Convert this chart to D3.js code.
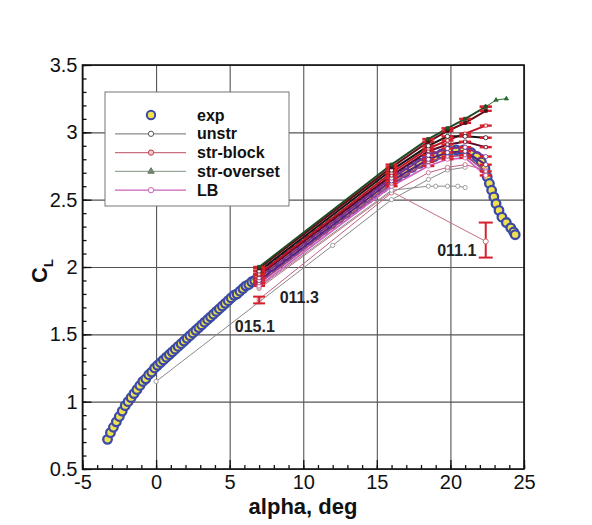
<!DOCTYPE html>
<html>
<head>
<meta charset="utf-8">
<script src="https://cdn.jsdelivr.net/npm/d3@7"></script>
<style>
  body { margin: 0; background: #fff; }
  svg { display: block; font-family: "Liberation Sans", Arial, sans-serif; }
</style>
</head>
<body>
<svg id="chart" width="592" height="525"></svg>
<script>
// ---- data ----
const xTicks = [-5, 0, 5, 10, 15, 20, 25];
const yTicks = [0.5, 1, 1.5, 2, 2.5, 3, 3.5];

// experiment
const expAlpha = [-3.3, -3.1, -2.9, -2.7, -2.5, -2.3, -2.1, -1.9, -1.7, -1.5, -1.3, -1.1, -0.9, -0.7, -0.5, -0.3, -0.1,
  0.1, 0.3, 0.5, 0.7, 0.9, 1.1, 1.3, 1.5, 1.7, 1.9, 2.1, 2.3, 2.5, 2.7, 2.9, 3.1, 3.3, 3.5, 3.7, 3.9,
  4.1, 4.3, 4.5, 4.7, 4.9, 5.1, 5.3, 5.5, 5.7, 5.9, 6.1, 6.3, 6.5, 6.7, 6.9,
  7.4, 7.9, 8.4, 8.9, 9.4, 9.9, 10.4, 10.9, 11.4, 11.9, 12.4, 12.9, 13.4, 13.9, 14.4, 14.9, 15.4, 15.9,
  16.4, 16.9, 17.4, 17.9, 18.4, 18.9, 19.4, 19.9, 20.4, 20.9, 21.4, 21.8, 22.1, 22.35, 22.5, 22.65,
  22.8, 22.95, 23.1, 23.3, 23.5, 23.8, 24.1, 24.3, 24.4];
const expCL = [0.72, 0.77, 0.81, 0.85, 0.89, 0.93, 0.97, 1.00, 1.03, 1.06, 1.09, 1.12, 1.15, 1.17, 1.20, 1.22, 1.25,
  1.27, 1.29, 1.31, 1.33, 1.35, 1.37, 1.39, 1.41, 1.43, 1.45, 1.47, 1.49, 1.51, 1.53, 1.55, 1.57, 1.59, 1.61, 1.63, 1.65,
  1.67, 1.69, 1.71, 1.73, 1.75, 1.77, 1.79, 1.80, 1.82, 1.84, 1.86, 1.87, 1.89, 1.90, 1.92,
  1.96, 2.00, 2.04, 2.08, 2.12, 2.16, 2.20, 2.24, 2.28, 2.32, 2.36, 2.40, 2.43, 2.47, 2.51, 2.55, 2.59, 2.63,
  2.67, 2.70, 2.74, 2.77, 2.80, 2.82, 2.84, 2.86, 2.87, 2.87, 2.85, 2.82, 2.78, 2.73, 2.67, 2.62,
  2.57, 2.52, 2.47, 2.42, 2.37, 2.33, 2.29, 2.26, 2.24];

// computations
const alphaCFD = [7, 16, 18.5, 19.8, 21, 22.4];
const clOversetA = [2.00, 2.76, 2.95, 3.03, 3.10, 3.19];
const alphaTail = [22.4, 23.1, 23.8];
const clTail = [3.19, 3.24, 3.25];
const clBlockA = [1.99, 2.74, 2.93, 3.01, 3.07, 3.16];
const clUnstrA = [1.97, 2.72, 2.90, 2.97, 2.97, 2.96];
const clBlockB = [1.95, 2.70, 2.88, 2.94, 2.99, 3.05];
const clBlockC = [1.94, 2.68, 2.86, 2.91, 2.93, 2.89];
const clLBA = [1.92, 2.66, 2.83, 2.88, 2.89, 2.82];
const clLBB = [1.90, 2.64, 2.80, 2.85, 2.86, 2.76];
const clBlockD = [1.88, 2.62, 2.78, 2.82, 2.83, 2.71];
const clLBC = [1.86, 2.60, 2.75, 2.80, 2.81, 2.68];
const alphaFlat = [7, 16, 18.5, 19, 19.8, 20.5, 21];
const clFlat = [1.85, 2.57, 2.60, 2.60, 2.60, 2.60, 2.59];
const alpha0111 = [7, 16, 22.4];
const cl0111 = [1.84, 2.56, 2.19];
const cl0113 = [1.76, 2.55, 2.70, 2.74, 2.76, 2.72];
const alpha0151 = [0, 7, 12, 16, 18.5, 19.8, 21];
const cl0151 = [1.15, 1.74, 2.16, 2.50, 2.65, 2.72, 2.74];

const legendNames = ["exp", "unstr", "str-block", "str-overset", "LB"];

// ---- layout ----
const svg = d3.select("#chart");
const pLeft = 82.5, pRight = 524, pTop = 65, pBottom = 469;

const x = d3.scaleLinear().domain([-5, 25]).range([pLeft, pRight]);
const y = d3.scaleLinear().domain([0.5, 3.5]).range([pBottom, pTop]);

svg.append("rect").attr("width", 592).attr("height", 525).attr("fill", "#fff");

// grid
svg.append("g").attr("class", "grid-x")
  .attr("transform", `translate(0,${pBottom})`)
  .call(d3.axisBottom(x).tickValues(xTicks).tickSize(-(pBottom - pTop)).tickFormat(""));
svg.append("g").attr("class", "grid-y")
  .attr("transform", `translate(${pLeft},0)`)
  .call(d3.axisLeft(y).tickValues(yTicks).tickSize(-(pRight - pLeft)).tickFormat(""));
svg.selectAll(".grid-x line, .grid-y line").attr("stroke", "#555").attr("stroke-width", 1.1);

// minor + major ticks (inward)
const tickGroups = [
  svg.append("g").attr("transform", `translate(0,${pBottom})`)
    .call(d3.axisBottom(x).tickValues(d3.range(-5, 25.01, 1)).tickSize(-4).tickFormat("")),
  svg.append("g").attr("transform", `translate(0,${pBottom})`)
    .call(d3.axisBottom(x).tickValues(xTicks).tickSize(-9).tickFormat("")),
  svg.append("g").attr("transform", `translate(${pLeft},0)`)
    .call(d3.axisLeft(y).tickValues(d3.range(0.5, 3.51, 0.1)).tickSize(-4).tickFormat("")),
  svg.append("g").attr("transform", `translate(${pLeft},0)`)
    .call(d3.axisLeft(y).tickValues(yTicks).tickSize(-9).tickFormat(""))
];
tickGroups.forEach(g => g.selectAll("line").attr("stroke", "#111").attr("stroke-width", 1.3));

// tick labels
const xLab = svg.append("g").attr("transform", `translate(0,${pBottom})`)
  .call(d3.axisBottom(x).tickValues(xTicks).tickSize(0).tickPadding(6).tickFormat(d => d));
const yLab = svg.append("g").attr("transform", `translate(${pLeft},0)`)
  .call(d3.axisLeft(y).tickValues(yTicks).tickSize(0).tickPadding(5).tickFormat(d => d));
[xLab, yLab].forEach(g => {
  g.selectAll("text").attr("font-size", 20).attr("fill", "#111")
    .attr("font-family", '"Liberation Sans", Arial, sans-serif');
});
svg.selectAll(".domain").remove();

// frame
svg.append("rect").attr("x", pLeft).attr("y", pTop)
  .attr("width", pRight - pLeft).attr("height", pBottom - pTop)
  .attr("fill", "none").attr("stroke", "#111").attr("stroke-width", 1.6);

// axis titles
svg.append("text").attr("x", 303).attr("y", 514).attr("text-anchor", "middle")
  .attr("font-size", 22).attr("font-weight", "bold").attr("fill", "#111").text("alpha, deg");
const clTitle = svg.append("text").attr("transform", "translate(47,283) rotate(-90)")
  .attr("font-size", 22).attr("font-weight", "bold").attr("fill", "#111");
clTitle.append("tspan").text("C");
clTitle.append("tspan").attr("font-size", 13).attr("dy", 6).text("L");

// ---- marks ----
const plot = svg.append("g");
const line = d3.line().x(d => x(d[0])).y(d => y(d[1]));

// experiment points
plot.append("g").selectAll("circle")
  .data(d3.zip(expAlpha, expCL))
  .join("circle")
  .attr("cx", d => x(d[0])).attr("cy", d => y(d[1])).attr("r", 4.3)
  .attr("fill", "#efe050").attr("stroke", "#3b4aa6").attr("stroke-width", 2.3);

const series = [
  { a: alpha0151, c: cl0151, color: "#8a8a8a", sym: d3.symbolCircle, fill: "#fff", w: 1 },
  { a: alpha0111, c: cl0111, color: "#c2707c", sym: d3.symbolCircle, fill: "#fff", w: 1 },
  { a: alphaCFD, c: cl0113, color: "#c06080", sym: d3.symbolCircle, fill: "#fff", w: 1 },
  { a: alphaFlat, c: clFlat, color: "#8a8a8a", sym: d3.symbolCircle, fill: "#fff", w: 1 },
  { a: alphaCFD, c: clLBC, color: "#d060c0", sym: d3.symbolCircle, fill: "#fff", w: 1.8 },
  { a: alphaCFD, c: clBlockD, color: "#a04a80", sym: d3.symbolSquare, fill: "#fff", w: 1.8 },
  { a: alphaCFD, c: clLBB, color: "#5a2280", sym: d3.symbolCircle, fill: "#fff", w: 2 },
  { a: alphaCFD, c: clLBA, color: "#7a3096", sym: d3.symbolCircle, fill: "#fff", w: 2 },
  { a: alphaCFD, c: clBlockC, color: "#5a0a28", sym: d3.symbolSquare, fill: "#fff", w: 2 },
  { a: alphaCFD, c: clBlockB, color: "#c01424", sym: d3.symbolSquare, fill: "#fff", w: 2 },
  { a: alphaCFD, c: clUnstrA, color: "#151515", sym: d3.symbolCircle, fill: "#fff", w: 2 },
  { a: alphaCFD, c: clBlockA, color: "#6a0614", sym: d3.symbolSquare, fill: "#222", w: 2 },
  { a: alphaTail, c: clTail, color: "#2a6a30", sym: d3.symbolTriangle, fill: "#2a6a30", w: 1 },
  { a: alphaCFD, c: clOversetA, color: "#1f4a24", sym: d3.symbolSquare, fill: "#1f5a28", w: 2 }
];

series.forEach(s => {
  const pts = d3.zip(s.a, s.c);
  plot.append("path").datum(pts).attr("d", line)
    .attr("fill", "none").attr("stroke", s.color).attr("stroke-width", s.w);
});

// red error bar ladders
const ladder = plot.append("g");
series.slice(4).forEach(s => {
  d3.zip(s.a, s.c).forEach(d => {
    if (d[0] > 22.5) return;
    ladder.append("line")
      .attr("x1", x(d[0]) - 6).attr("x2", x(d[0]) + 6)
      .attr("y1", y(d[1])).attr("y2", y(d[1]))
      .attr("stroke", "#d8202c").attr("stroke-width", 2.4);
  });
});

series.forEach(s => {
  plot.append("g").selectAll("path")
    .data(d3.zip(s.a, s.c))
    .join("path")
    .attr("transform", d => `translate(${x(d[0])},${y(d[1])})`)
    .attr("d", d3.symbol().type(s.sym).size(s.sym === d3.symbolSquare ? 10 : (s.sym === d3.symbolTriangle ? 8 : 14)))
    .attr("fill", s.fill).attr("stroke", s.color).attr("stroke-width", 0.8);
});

// labelled error bars
function errBar(a, lo, hi, cap) {
  const g = plot.append("g").attr("stroke", "#d8202c").attr("stroke-width", 2);
  g.append("line").attr("x1", x(a)).attr("x2", x(a)).attr("y1", y(lo)).attr("y2", y(hi));
  g.append("line").attr("x1", x(a) - cap).attr("x2", x(a) + cap).attr("y1", y(lo)).attr("y2", y(lo));
  g.append("line").attr("x1", x(a) - cap).attr("x2", x(a) + cap).attr("y1", y(hi)).attr("y2", y(hi));
}
errBar(22.4, 2.07, 2.33, 7);
errBar(7, 1.73, 1.78, 6);
plot.append("circle").attr("cx", x(22.4)).attr("cy", y(2.19)).attr("r", 2.5)
  .attr("fill", "#fff").attr("stroke", "#c2707c");

const notes = [
  { t: "011.1", a: 19.1, c: 2.08 },
  { t: "011.3", a: 8.4, c: 1.73 },
  { t: "015.1", a: 5.35, c: 1.52 }
];
notes.forEach(n => {
  svg.append("text").attr("x", x(n.a)).attr("y", y(n.c))
    .attr("font-size", 16).attr("font-weight", "bold").attr("fill", "#222").text(n.t);
});

// ---- legend ----
const lg = svg.append("g");
lg.append("rect").attr("x", 105).attr("y", 92).attr("width", 184).attr("height", 114)
  .attr("fill", "#fff").attr("stroke", "#777").attr("stroke-width", 1);
const legStyle = [
  { line: null, sym: d3.symbolCircle, size: 55, fill: "#f2e24a", stroke: "#3a47a8", sw: 2 },
  { line: "#8a8a8a", sym: d3.symbolCircle, size: 22, fill: "#fff", stroke: "#555", sw: 1 },
  { line: "#c87080", sym: d3.symbolCircle, size: 22, fill: "#f4c8cc", stroke: "#c03848", sw: 1 },
  { line: "#9aaa9a", sym: d3.symbolTriangle, size: 18, fill: "#778877", stroke: "#667766", sw: 1 },
  { line: "#c860b8", sym: d3.symbolCircle, size: 22, fill: "#fff", stroke: "#c860b8", sw: 1 }
];
legendNames.forEach((name, i) => {
  const yy = 115 + i * 18.8;
  const st = legStyle[i];
  if (st.line) {
    lg.append("line").attr("x1", 115).attr("x2", 186).attr("y1", yy).attr("y2", yy)
      .attr("stroke", st.line).attr("stroke-width", 1.2);
  }
  lg.append("path").attr("transform", `translate(151,${yy})`)
    .attr("d", d3.symbol().type(st.sym).size(st.size))
    .attr("fill", st.fill).attr("stroke", st.stroke).attr("stroke-width", st.sw);
  lg.append("text").attr("x", 197).attr("y", yy + 5.5)
    .attr("font-size", 16).attr("font-weight", "bold").attr("fill", "#111").text(name);
});
</script>
</body>
</html>
